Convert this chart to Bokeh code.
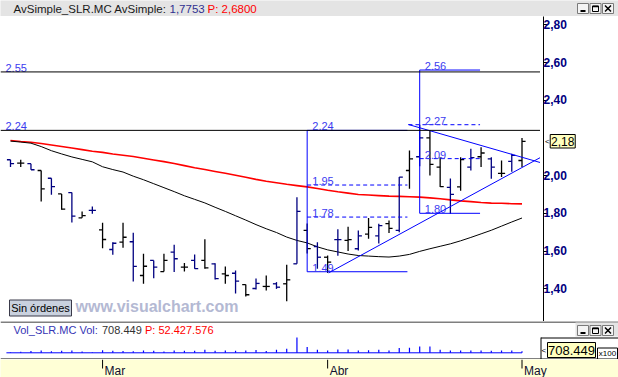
from bokeh.plotting import figure
from bokeh.layouts import column, row
from bokeh.models import Range1d, FixedTicker, Span, Label, CustomJSTickFormatter
from bokeh.embed import file_html
from bokeh.resources import INLINE
from bokeh.core.properties import value

# ---------------- data ----------------
bars = list(range(51))
opens = [2.084, 2.066, 2.063, 2.027, 1.986, 1.903, 1.910, 1.776, 1.816, 1.712,
         1.608, 1.647, 1.649, 1.470, 1.550, 1.491, 1.594, 1.514, 1.550, 1.550,
         1.532, 1.479, 1.482, 1.422, 1.401, 1.412, 1.426, 1.426, 1.532, 1.709,
         1.624, 1.567, 1.660, 1.656, 1.612, 1.690, 1.680, 1.745, 1.709, 2.027,
         2.100, 2.200, 2.045, 1.938, 1.940, 2.045, 2.100, 2.089, 2.012, 2.075,
         2.080]
highs = [2.084, 2.084, 2.063, 2.027, 1.986, 1.903, 1.910, 1.810, 1.836, 1.750,
         1.647, 1.750, 1.697, 1.585, 1.550, 1.585, 1.633, 1.537, 1.581, 1.662,
         1.535, 1.518, 1.497, 1.422, 1.454, 1.470, 1.435, 1.527, 1.885, 1.746,
         1.647, 1.576, 1.715, 1.728, 1.709, 1.775, 1.745, 1.762, 1.992, 2.133,
         2.270, 2.239, 2.098, 1.985, 2.098, 2.142, 2.151, 2.098, 2.080, 2.116,
         2.200]
lows = [2.045, 2.045, 2.031, 1.863, 1.898, 1.819, 1.751, 1.776, 1.797, 1.615,
        1.580, 1.617, 1.438, 1.426, 1.456, 1.491, 1.488, 1.491, 1.506, 1.506,
        1.449, 1.426, 1.375, 1.359, 1.396, 1.390, 1.399, 1.334, 1.532, 1.587,
        1.506, 1.484, 1.575, 1.600, 1.603, 1.665, 1.640, 1.695, 1.700, 1.930,
        2.050, 2.001, 1.940, 1.797, 1.920, 2.027, 2.045, 1.983, 1.992, 2.020,
        2.045]
closes = [2.063, 2.066, 2.031, 1.930, 1.942, 1.822, 1.785, 1.788, 1.816, 1.661,
          1.641, 1.673, 1.518, 1.519, 1.514, 1.550, 1.559, 1.514, 1.506, 1.511,
          1.453, 1.470, 1.440, 1.368, 1.428, 1.412, 1.408, 1.447, 1.810, 1.613,
          1.567, 1.541, 1.660, 1.660, 1.680, 1.725, 1.735, 1.720, 1.992, 2.089,
          2.200, 2.060, 1.942, 1.900, 2.085, 2.095, 2.120, 2.045, 2.012, 2.107,
          2.182]
bar_colors = (["#000080", "#000000"] * 21)[:42] + [
    "#000000", "#000080", "#000000", "#000080", "#000000",
    "#000080", "#000000", "#000080", "#000000"]
ma_red = [2.186, 2.181, 2.177, 2.170, 2.162, 2.154, 2.146, 2.138, 2.129, 2.123,
          2.115, 2.108, 2.101, 2.092, 2.083, 2.074, 2.064, 2.053, 2.042, 2.032,
          2.022, 2.012, 2.002, 1.991, 1.980, 1.970, 1.962, 1.954, 1.947, 1.940,
          1.932, 1.922, 1.914, 1.907, 1.900, 1.897, 1.894, 1.891, 1.890, 1.888,
          1.886, 1.882, 1.877, 1.871, 1.866, 1.862, 1.857, 1.854, 1.853, 1.851,
          1.850]
ma_black = [2.183, 2.178, 2.172, 2.154, 2.132, 2.115, 2.099, 2.086, 2.073, 2.047,
            2.032, 2.019, 1.997, 1.978, 1.957, 1.936, 1.915, 1.893, 1.874, 1.855,
            1.832, 1.810, 1.787, 1.764, 1.740, 1.718, 1.698, 1.674, 1.656, 1.643,
            1.622, 1.606, 1.595, 1.584, 1.576, 1.573, 1.570, 1.568, 1.573, 1.582,
            1.598, 1.612, 1.625, 1.638, 1.654, 1.672, 1.691, 1.710, 1.732, 1.754,
            1.775]
volumes = [281000, 423000, 712000, 998000, 705000, 846000, 991000, 566000, 279000, 1134000,
           857000, 713000, 702000, 996000, 848000, 571000, 989000, 851000, 856000, 1281000,
           847000, 992000, 858000, 1003000, 1139000, 714000, 1276000, 1712000, 6528000, 2421000,
           1283000, 997000, 1417000, 1426000, 988000, 1131000, 1274000, 993000, 1992000, 2127000,
           2704000, 2689000, 1285000, 996000, 991000, 1002000, 987000, 853000, 995000, 990000,
           708449]
month_bars = [9, 31, 50]
month_labels = ["Mar", "Abr", "May"]
price_ticks = [1.40, 1.60, 1.80, 2.00, 2.40, 2.60, 2.80]
level_lines = [2.55, 2.24]
fib1_levels = [2.24, 1.95, 1.78, 1.49]
fib2_levels = [2.56, 2.27, 2.09, 1.80]
trend_lower_x = [31.1, 51.8]
trend_lower_p = [1.484, 2.096]
trend_upper_x = [38.9, 51.8]
trend_upper_p = [2.271, 2.069]
header_parts = ["AvSimple_SLR.MC AvSimple:", "1,7753", "P: 2,6800"]
vol_parts = ["Vol_SLR.MC Vol:", "708.449", "P: 52.427.576"]

# ---------------- layout helpers ----------------
FONT = "Liberation Sans"
NAVY = "#000080"
BLUE = "#0000ff"
TXT_BLUE = "#3c3cf0"
W = 618
AX_X = 540
PX0, STEP = 10.0, 10.23


def xd(px):
    return (px - PX0) / STEP


P_REF, P_REF_PX, P_SCALE = 2.80, 24.3, 188.5


def yp(py):
    return P_REF - (py - P_REF_PX) / P_SCALE


V_BASE_PX, V_SCALE = 352.3, 425000.0


def vy(py):
    return (V_BASE_PX - py) * V_SCALE


def plain_fig(width, height, xr, yr, bg, **kw):
    f = figure(width=width, height=height, x_range=xr, y_range=yr, title=None,
               output_backend="svg", toolbar_location=None,
               x_axis_location=None, y_axis_location=None,
               min_border_left=0, min_border_right=0, min_border_top=0, min_border_bottom=0,
               background_fill_color=bg, border_fill_color=bg, outline_line_color=None,
               frame_align=False, **kw)
    f.grid.grid_line_color = None
    return f


def window_buttons(f, fx, fy, top):
    for k in range(3):
        l = 577 + k * 12.5
        r = l + 11
        t = top
        b = top + 10
        f.quad(left=[fx(l)], right=[fx(r)], top=[fy(t)], bottom=[fy(b)],
               fill_color="#f4f4f4", line_color="#7a7a7a", line_width=1)
        if k == 0:
            f.segment(x0=[fx(l + 3)], x1=[fx(l + 8)], y0=[fy(b - 2.5)], y1=[fy(b - 2.5)],
                      line_color="black", line_width=2)
        elif k == 1:
            f.quad(left=[fx(l + 2.5)], right=[fx(l + 8.5)], top=[fy(t + 2.5)], bottom=[fy(b - 2)],
                   fill_color=None, line_color="black", line_width=1)
            f.segment(x0=[fx(l + 2.5)], x1=[fx(l + 8.5)], y0=[fy(t + 3)], y1=[fy(t + 3)],
                      line_color="black", line_width=1.5)
        else:
            f.segment(x0=[fx(l + 2.5), fx(l + 2.5)], x1=[fx(l + 8.5), fx(l + 8.5)],
                      y0=[fy(t + 2), fy(b - 2)], y1=[fy(b - 2), fy(t + 2)],
                      line_color="black", line_width=1.5)


# ---------------- header bar ----------------
hdr = plain_fig(W, 16, Range1d(0, W), Range1d(16, 0), "#e4e4e4")
hdr.text(x=[13, 169, 207], y=[8.5, 8.5, 8.5], text=header_parts,
         text_color=["#1a1a1a", "#303090", "#ff0000"],
         text_font=value(FONT), text_font_size="11.5px", text_baseline="middle")
window_buttons(hdr, lambda v: v, lambda v: v, 3)

# ---------------- main price panel (frame only) ----------------
price_range = Range1d(yp(321), yp(16))
main = plain_fig(AX_X, 305, Range1d(xd(0), xd(AX_X)), price_range, "white")

# watermark + order button
main.text(x=[xd(75)], y=[yp(306)], text=["www.visualchart.com"], text_font=value(FONT),
          text_font_size="16px", text_font_style="bold", text_color="#b4b9d3",
          text_baseline="middle")
main.quad(left=[xd(9)], right=[xd(71)], top=[yp(299.5)], bottom=[yp(315.5)],
          fill_color="#c9d1de", line_color="#3a3a4a", line_width=1)
main.text(x=[xd(40)], y=[yp(307.5)], text=["Sin órdenes"], text_font=value(FONT),
          text_font_size="11px", text_color="black", text_align="center", text_baseline="middle")

# horizontal level lines with their labels
for lv in level_lines:
    main.add_layout(Span(location=lv, dimension="width", line_color="black", line_width=1))
main.text(x=[xd(5)] * len(level_lines), y=[lv + 4 / P_SCALE for lv in level_lines],
          text=[f"{lv:.2f}" for lv in level_lines], text_font=value(FONT),
          text_font_size="11px", text_color=TXT_BLUE, text_baseline="alphabetic")

# moving averages
main.line(bars, ma_red, line_color="#ff0000", line_width=1.6)
main.line(bars, ma_black, line_color="black", line_width=1)

# OHLC bars
TICK = 0.35
main.segment(x0=bars, x1=bars, y0=lows, y1=highs, line_color=bar_colors, line_width=1.3)
main.segment(x0=[b - TICK for b in bars], x1=bars, y0=opens, y1=opens,
             line_color=bar_colors, line_width=1.3)
main.segment(x0=bars, x1=[b + TICK for b in bars], y0=closes, y1=closes,
             line_color=bar_colors, line_width=1.3)

# Fibonacci drawings
FIB1_L, FIB1_R = 29.0, 38.8
FIB2_L, FIB2_R, FIB2_DASH_L = 40.0, 45.9, 38.9
main.segment(x0=[FIB1_L, FIB1_L, FIB1_L], x1=[FIB1_R, FIB1_R, FIB1_L],
             y0=[fib1_levels[0], fib1_levels[-1], fib1_levels[0]],
             y1=[fib1_levels[0], fib1_levels[-1], fib1_levels[-1]],
             line_color=BLUE, line_width=1)
main.segment(x0=[FIB1_L] * 2, x1=[FIB1_R] * 2, y0=fib1_levels[1:3], y1=fib1_levels[1:3],
             line_color=BLUE, line_width=1, line_dash="4 3")
main.segment(x0=[FIB2_L, FIB2_L, FIB2_L], x1=[FIB2_R, FIB2_R, FIB2_L],
             y0=[fib2_levels[0], fib2_levels[-1], fib2_levels[0]],
             y1=[fib2_levels[0], fib2_levels[-1], fib2_levels[-1]],
             line_color=BLUE, line_width=1)
main.segment(x0=[FIB2_DASH_L, FIB2_L], x1=[FIB2_R, FIB2_R], y0=fib2_levels[1:3], y1=fib2_levels[1:3],
             line_color=BLUE, line_width=1, line_dash="4 3")
main.text(x=[FIB1_L + 0.5] * 4 + [FIB2_L + 0.5] * 4,
          y=[lv + 4 / P_SCALE for lv in fib1_levels + fib2_levels],
          text=[f"{lv:.2f}" for lv in fib1_levels + fib2_levels],
          text_font=value(FONT), text_font_size="11px", text_color=TXT_BLUE,
          text_baseline="alphabetic")

# trend lines
main.line(trend_lower_x, trend_lower_p, line_color=BLUE, line_width=1)
main.line(trend_upper_x, trend_upper_p, line_color=BLUE, line_width=1)

# ---------------- price scale panel (real axis, labels drawn inside this panel) ----------------
side = figure(width=W - AX_X, height=305, title=None, x_range=Range1d(AX_X, W), y_range=price_range,
              output_backend="svg", toolbar_location=None,
              x_axis_location=None, y_axis_location="left",
              min_border_left=0, min_border_right=0, min_border_top=0, min_border_bottom=0,
              background_fill_color="white", border_fill_color="white", outline_line_color=None,
              frame_align=False)
side.grid.grid_line_color = None
ax = side.yaxis[0]
ax.ticker = FixedTicker(ticks=price_ticks)
ax.formatter = CustomJSTickFormatter(code="return '  ' + tick.toFixed(2).replace('.', ',');")
ax.axis_line_color = "black"
ax.major_tick_line_color = "black"
ax.major_tick_out = 0
ax.major_tick_in = 4
ax.minor_tick_out = 0
ax.minor_tick_in = 0
ax.major_label_standoff = -30
ax.major_label_text_font = FONT
ax.major_label_text_font_size = "12px"
ax.major_label_text_font_style = "bold"
ax.major_label_text_color = NAVY

last_txt = f"{closes[-1]:.2f}".replace(".", ",")
side.quad(left=[547], right=[573], top=[yp(134)], bottom=[yp(147.5)],
          fill_color="#ffffc0", line_color="black", line_width=1)
side.text(x=[560], y=[closes[-1]], text=[last_txt], text_font=value(FONT), text_font_size="12px",
          text_color="black", text_align="center", text_baseline="middle")
side.text(x=[541.5], y=[closes[-1]], text=["<"], text_font=value(FONT), text_font_size="8px",
          text_color="black", text_baseline="middle")

# ---------------- volume panel ----------------
vol = plain_fig(W, 38, Range1d(xd(0), xd(W)), Range1d(vy(359), vy(321)), "white")
vol.segment(x0=[xd(0), xd(0)], x1=[xd(W), xd(W)], y0=[vy(321.5), vy(358.5)],
            y1=[vy(321.5), vy(358.5)], line_color="black", line_width=1)
vol.segment(x0=[xd(540.5)], x1=[xd(540.5)], y0=[vy(337)], y1=[vy(359)], line_color="black")
vol.segment(x0=[xd(540.5)], x1=[xd(W)], y0=[vy(337.5)], y1=[vy(337.5)], line_color="black")
vol.quad(left=[xd(575)], right=[xd(W)], top=[vy(322)], bottom=[vy(336)],
         fill_color="#e4e4e4", line_color=None)
window_buttons(vol, xd, vy, 325)
vol.text(x=[xd(13), xd(101.5), xd(144.5)], y=[vy(329.5)] * 3, text=vol_parts,
         text_color=["#3535b5", "#333333", "#ff0000"], text_font=value(FONT),
         text_font_size="11px", text_baseline="middle")
vol.segment(x0=[bars[0] - 0.4], x1=[bars[-1]], y0=[0], y1=[0], line_color=BLUE, line_width=1)
vol.segment(x0=bars, x1=bars, y0=[0] * len(bars), y1=volumes, line_color=BLUE, line_width=1.2)
vol_txt = f"{volumes[-1]:,}".replace(",", ".")
vol.quad(left=[xd(547)], right=[xd(595)], top=[vy(342)], bottom=[vy(357)],
         fill_color="#ffffc0", line_color="black")
vol.text(x=[xd(571)], y=[vy(349.5)], text=[vol_txt], text_font=value(FONT), text_font_size="13px",
         text_color="black", text_align="center", text_baseline="middle")
vol.text(x=[xd(541)], y=[vy(349.5)], text=["<"], text_font=value(FONT), text_font_size="8px",
         text_color="black", text_baseline="middle")
vol.quad(left=[xd(597)], right=[xd(617)], top=[vy(347.5)], bottom=[vy(358.5)],
         fill_color="white", line_color="black")
vol.text(x=[xd(607)], y=[vy(353)], text=["x100"], text_font=value(FONT), text_font_size="8px",
         text_color="black", text_align="center", text_baseline="middle")

# ---------------- date strip ----------------
dates = plain_fig(W, 18, Range1d(xd(0), xd(W)), Range1d(377, 359), "#ffffd6")
dates.segment(x0=month_bars, x1=month_bars, y0=[359] * 3, y1=[368] * 3, line_color="black")
dates.text(x=month_bars, y=[363] * 3, text=month_labels, x_offset=2, text_font=value(FONT),
           text_font_size="12px", text_color="#101030", text_baseline="top")

layout = column(hdr, row(main, side, spacing=0), vol, dates, spacing=0)
open("out.html", "w").write(file_html(layout, INLINE))
